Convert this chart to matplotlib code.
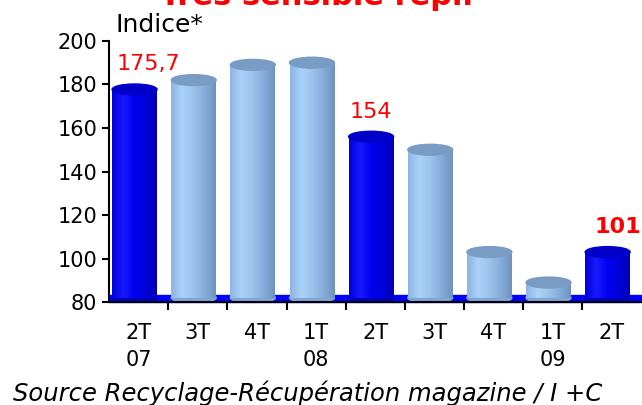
import numpy as np
import matplotlib
matplotlib.use('Agg')
import matplotlib.pyplot as plt
from matplotlib.patches import Rectangle, Ellipse
from matplotlib.colors import LinearSegmentedColormap

# data
quarters = ['2T\n07', '3T', '4T', '1T\n08', '2T', '3T', '4T', '1T\n09', '2T']
values = [175.7, 180, 187, 188, 154, 148, 101, 87, 101]
highlight = [True, False, False, False, True, False, False, False, True]
labels = {0: '175,7', 4: '154', 8: '101'}
label_align = {0: 'left', 4: 'center', 8: 'left'}
bold_labels = [8]

fig = plt.figure(figsize=(6.42, 4.05), dpi=100)
ax = fig.add_axes([0.170, 0.254, 0.829, 0.645])

ymin = 80
depth = 2.0       # 3D look: ellipse sits a bit above the value
ell_h = 5.0
width = 0.76
shift = -0.07

light_cmap = LinearSegmentedColormap.from_list(
    'light', ['#8fb5e0', '#a9d2fb', '#9cc3ec', '#86addb', '#6f93bd'])
dark_cmap = LinearSegmentedColormap.from_list(
    'dark', ['#0000d8', '#1a1aff', '#0000f0', '#0000d8', '#0000b8'])
grad = np.linspace(0, 1, 64).reshape(1, -1)

# floor band
ax.add_patch(Rectangle((-0.5, ymin), len(values), 3.2, color='#0000ff',
                       zorder=1, clip_on=False))

for i, v in enumerate(values):
    x0 = i + shift - width / 2
    top = v + depth
    cmap = dark_cmap if highlight[i] else light_cmap
    top_col = '#0000c8' if highlight[i] else '#789cc4'
    bot_col = '#0000c0' if highlight[i] else '#7fa6d4'
    ax.add_patch(Ellipse((i + shift, ymin + depth), width, ell_h,
                         color=bot_col, zorder=2))
    body = Rectangle((x0, ymin + depth), width, top - ymin - depth,
                     facecolor='none', edgecolor='none', zorder=3)
    ax.add_patch(body)
    im = ax.imshow(grad, cmap=cmap, aspect='auto', zorder=3,
                   extent=[x0, x0 + width, ymin + depth, top])
    im.set_clip_path(body)
    ax.add_patch(Ellipse((i + shift, top), width, ell_h,
                         color=top_col, zorder=4))

for i, txt in labels.items():
    x = i + shift if label_align[i] == 'center' else i + shift - width / 2 + 0.08
    if i in bold_labels:
        x += 0.08
    ax.text(x, values[i] + 13.5, txt, color='red', ha=label_align[i],
            va='center', fontsize=16,
            fontweight='bold' if i in bold_labels else 'normal',
            clip_on=False)

ax.set_xlim(-0.5, len(values) - 0.5)
ax.set_ylim(ymin, 200)
ax.set_yticks(np.arange(80, 201, 20))
ax.tick_params(axis='y', labelsize=15, length=5, width=1.5, direction='out')

ax.set_xticks(np.arange(0.5, len(values) - 0.5, 1))
ax.set_xticklabels([])
ax.set_xticks(np.arange(len(values)), minor=True)
ax.set_xticklabels(quarters, minor=True, fontsize=15, va='top',
                   linespacing=1.45)
ax.tick_params(axis='x', which='major', length=6, width=1.5, direction='out')
ax.tick_params(axis='x', which='minor', length=0, pad=15)

for s in ['top', 'right']:
    ax.spines[s].set_visible(False)
ax.spines['left'].set_linewidth(1.5)
ax.spines['bottom'].set_linewidth(1.5)
ax.spines['bottom'].set_zorder(5)

fig.text(316 / 642, 1 - 5 / 405, 'Très sensible repli', color='red',
         fontsize=22, fontweight='bold', ha='center', va='baseline')
fig.text(115 / 642, 1 - 32 / 405, 'Indice*', fontsize=18, va='baseline')
fig.text(13 / 642, 1 - 401 / 405, 'Source Recyclage-Récupération magazine / I +C',
         fontsize=17.5, style='italic', va='baseline')

fig.savefig('out.png', dpi=100)
